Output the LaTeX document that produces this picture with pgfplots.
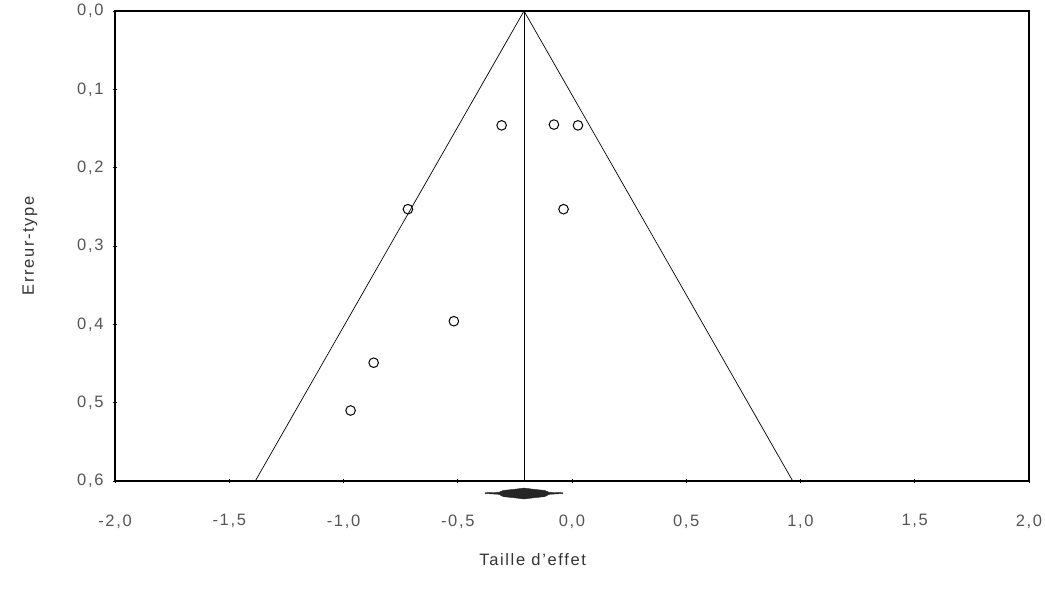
\documentclass[border=0pt]{standalone}
\usepackage{pgfplots}
\pgfplotsset{compat=1.18}
\usepackage{fontspec}
\setmainfont{Liberation Sans}[LetterSpace=10]
\definecolor{ticklab}{HTML}{555555}
\definecolor{axlab}{HTML}{333333}
\begin{document}
\begin{tikzpicture}
\begin{axis}[
  name=ax,
  scale only axis,
  width=914bp, height=470bp,
  xmin=-2, xmax=2, ymin=0, ymax=0.6,
  y dir=reverse,
  clip=false,
  axis line style={black, line width=1.2bp},
  xtick={-2,-1.5,-1,-0.5,0,0.5,1,1.5,2},
  ytick={0,0.1,0.2,0.3,0.4,0.5,0.6},
  xtick pos=left, ytick pos=left,
  tick align=center,
  major tick length=4bp,
  tick style={black, line width=0.8bp},
  /pgf/number format/assume math mode=true,
  /pgf/number format/.cd, use comma, fixed, fixed zerofill, precision=1,
  /pgfplots/.cd,
  ticklabel style={font=\fontsize{16.5bp}{18bp}\selectfont, text=ticklab},
  xticklabel style={yshift=-28bp},
  yticklabel style={xshift=-6bp},
  xlabel={Taille d'effet},
  ylabel={Erreur-type},
  label style={font=\fontsize{16.5bp}{18bp}\selectfont, text=axlab},
  xlabel style={at={(rel axis cs:0.457,0)}, anchor=center, yshift=-79bp},
  ylabel style={at={(rel axis cs:0,0.5)}, anchor=center, rotate=0, yshift=85bp},
]
% funnel
\addplot[black, line width=0.7bp, no marks] coordinates {(-1.386,0.6) (-0.21,0) (0.966,0.6)};
% pooled estimate line
\addplot[black, line width=0.7bp, no marks] coordinates {(-0.21,0) (-0.21,0.6)};
% studies
\addplot[only marks, mark=o, mark size=4.8bp, black, line width=1bp] coordinates {
(-0.308,0.146) (-0.079,0.145) (0.026,0.146) (-0.718,0.253) (-0.037,0.253)
(-0.517,0.396) (-0.868,0.449) (-0.969,0.510)};
% summary estimate (confidence band)
\addplot[fill=black!85, draw=black!85, line width=0.4bp, no marks] coordinates {
(-0.38,0.6150) (-0.32,0.6145) (-0.30,0.6120) (-0.25,0.6105) (-0.21,0.6090) (-0.17,0.6105) (-0.12,0.6120) (-0.10,0.6145) (-0.04,0.6150)
(-0.04,0.6160) (-0.10,0.6170) (-0.12,0.6200) (-0.17,0.6215) (-0.21,0.6230) (-0.25,0.6215) (-0.30,0.6200) (-0.32,0.6170) (-0.38,0.6160)} -- cycle;
\end{axis}
\pgfresetboundingbox
\path[use as bounding box] ([xshift=-115bp,yshift=-114bp]ax.south west) rectangle ([xshift=16bp,yshift=11bp]ax.north east);
\end{tikzpicture}
\end{document}
